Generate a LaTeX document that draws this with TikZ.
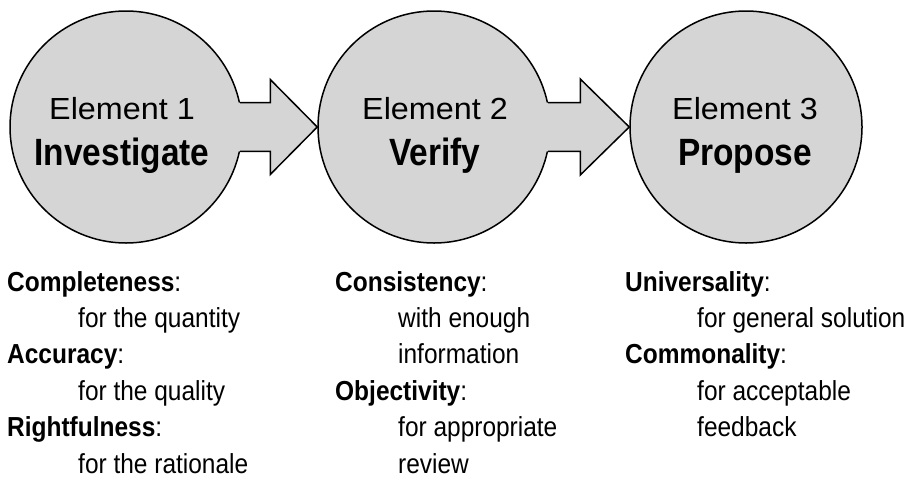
\documentclass[tikz,border=0pt]{standalone}
\usepackage{fontspec}
\setmainfont{Liberation Sans}
\newfontfamily\narrowfont[FakeStretch=0.88]{Liberation Sans}
\newfontfamily\bodyfont[FakeStretch=0.89]{Liberation Sans}
\newfontfamily\elemfont[FakeStretch=1.06]{Liberation Sans}
\usetikzlibrary{calc}
\definecolor{gfill}{RGB}{213,213,213}
\tikzset{
  stage/.style={circle, draw=black, line width=1.5pt, fill=gfill, minimum size=232pt, inner sep=0pt},
  arrowfill/.style={fill=gfill},
  arrowline/.style={draw=black, line width=1.5pt, line join=miter},
  elemlbl/.style={anchor=base, inner sep=0pt, font=\elemfont\fontsize{30.5}{30.5}\selectfont},
  titlelbl/.style={anchor=base, inner sep=0pt, font=\narrowfont\bfseries\fontsize{38}{38}\selectfont},
  body/.style={anchor=base west, inner sep=0pt, font=\bodyfont\fontsize{27.5}{27.5}\selectfont},
}
\begin{document}
\begin{tikzpicture}[x=1pt, y=-1pt]
\useasboundingbox (0,0) rectangle (909,477);
% circles
\node[stage] (c1) at (126,127) {};
\node[stage] (c2) at (434,127) {};
\node[stage] (c3) at (746,127) {};
% arrow 1
\coordinate (t1) at (c2.west);
\fill[arrowfill] ($(c1.12)+(-12,0)$) -- ($(c1.12 -| t1)+(-47,0)$) -- ($(t1)+(-47,-47.5)$) -- (t1)
  -- ($(t1)+(-47,47.5)$) -- ($(c1.-12 -| t1)+(-47,0)$) -- ($(c1.-12)+(-12,0)$) -- cycle;
\draw[arrowline] (c1.12) -- ($(c1.12 -| t1)+(-47,0)$) -- ($(t1)+(-47,-47.5)$) -- (t1)
  -- ($(t1)+(-47,47.5)$) -- ($(c1.-12 -| t1)+(-47,0)$) -- (c1.-12);
% arrow 2
\coordinate (t2) at (c3.west);
\fill[arrowfill] ($(c2.12)+(-12,0)$) -- ($(c2.12 -| t2)+(-49,0)$) -- ($(t2)+(-49,-48)$) -- (t2)
  -- ($(t2)+(-49,48)$) -- ($(c2.-12 -| t2)+(-49,0)$) -- ($(c2.-12)+(-12,0)$) -- cycle;
\draw[arrowline] (c2.12) -- ($(c2.12 -| t2)+(-49,0)$) -- ($(t2)+(-49,-48)$) -- (t2)
  -- ($(t2)+(-49,48)$) -- ($(c2.-12 -| t2)+(-49,0)$) -- (c2.-12);
% circle labels
\node[elemlbl] (e1) at (122,119) {Element 1};
\node[titlelbl] (n1) at (122,165) {Investigate};
\node[elemlbl] (e2) at (435,119) {Element 2};
\node[titlelbl] (n2) at (435,165) {Verify};
\node[elemlbl] (e3) at (745,119) {Element 3};
\node[titlelbl] (n3) at (745,165) {Propose};
% column 1
\node[body] (a1) at (7,291) {\textbf{Completeness}:};
\node[body] (a2) at (78,327.4) {for the quantity};
\node[body] (a3) at (7,363.8) {\textbf{Accuracy}:};
\node[body] (a4) at (78,400.2) {for the quality};
\node[body] (a5) at (7,436.6) {\textbf{Rightfulness}:};
\node[body] (a6) at (78,473) {for the rationale};
% column 2
\node[body] (b1) at (335,291) {\textbf{Consistency}:};
\node[body] (b2) at (398,327.4) {with enough};
\node[body] (b3) at (398,363.8) {information};
\node[body] (b4) at (335,400.2) {\textbf{Objectivity}:};
\node[body] (b5) at (398,436.6) {for appropriate};
\node[body] (b6) at (398,473) {review};
% column 3
\node[body] (d1) at (625,291) {\textbf{Universality}:};
\node[body] (d2) at (697,327.4) {for general solution};
\node[body] (d3) at (625,363.8) {\textbf{Commonality}:};
\node[body] (d4) at (697,400.2) {for acceptable};
\node[body] (d5) at (697,436.6) {feedback};
\end{tikzpicture}
\end{document}
